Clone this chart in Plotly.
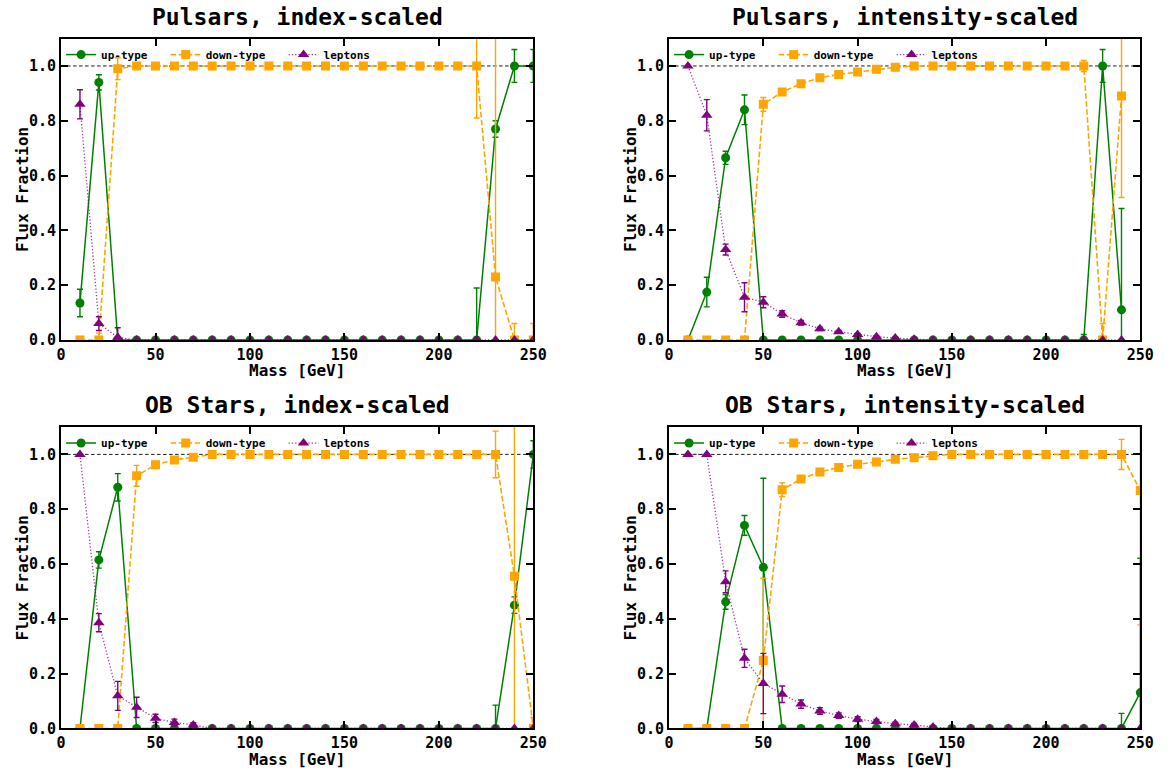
import plotly.graph_objects as go

# ---------------- data ----------------
mass = [10, 20, 30, 40, 50, 60, 70, 80, 90, 100, 110, 120, 130, 140, 150,
        160, 170, 180, 190, 200, 210, 220, 230, 240, 250]

titles = ["Pulsars, index-scaled", "Pulsars, intensity-scaled",
          "OB Stars, index-scaled", "OB Stars, intensity-scaled"]

# Pulsars, index-scaled
psr_idx_up = [0.135, 0.94, 0.0, 0, 0, 0, 0, 0, 0, 0, 0, 0, 0, 0, 0, 0, 0, 0, 0, 0, 0, 0.0, 0.77, 1.0, 1.0]
psr_idx_up_err = [0.05, 0.028, 0.01, 0, 0, 0, 0, 0, 0, 0, 0, 0, 0, 0, 0, 0, 0, 0, 0, 0, 0, 0.19, 0.03, 0.06, 0.06]
psr_idx_down = [0.0, 0.0, 0.99, 1, 1, 1, 1, 1, 1, 1, 1, 1, 1, 1, 1, 1, 1, 1, 1, 1, 1, 1.0, 0.23, 0.0, 0.0]
psr_idx_down_err = [0.0, 0.025, 0.04, 0, 0, 0, 0, 0, 0, 0, 0, 0, 0, 0, 0, 0, 0, 0, 0, 0, 0, 0.19, 1.0, 0.06, 0.06]
psr_idx_lep = [0.86, 0.06, 0.01, 0, 0, 0, 0, 0, 0, 0, 0, 0, 0, 0, 0, 0, 0, 0, 0, 0, 0, 0, 0, 0, 0]
psr_idx_lep_err = [0.053, 0.025, 0.035, 0, 0, 0, 0, 0, 0, 0, 0, 0, 0, 0, 0, 0, 0, 0, 0, 0, 0, 0, 0, 0, 0]

# Pulsars, intensity-scaled
psr_int_up = [0.0, 0.175, 0.665, 0.84, 0.0, 0, 0, 0, 0, 0, 0, 0, 0, 0, 0, 0, 0, 0, 0, 0, 0, 0.0, 1.0, 0.11, None]
psr_int_up_err = [0.0, 0.054, 0.024, 0.054, 0.0, 0, 0, 0, 0, 0, 0, 0, 0, 0, 0, 0, 0, 0, 0, 0, 0, 0.02, 0.06, 0.37, 0]
psr_int_down = [0.0, 0.0, 0.0, 0.0, 0.86, 0.905, 0.935, 0.957, 0.969, 0.978, 0.988, 0.995, 1, 1, 1, 1, 1, 1, 1, 1, 1, 1.0, 0.0, 0.89, None]
psr_int_down_err = [0, 0, 0, 0, 0.025, 0.012, 0.01, 0.008, 0.007, 0.006, 0.005, 0.004, 0, 0, 0, 0, 0, 0, 0, 0, 0, 0.02, 0.06, 0.37, 0]
psr_int_lep = [1.0, 0.82, 0.33, 0.156, 0.138, 0.095, 0.063, 0.041, 0.03, 0.02, 0.012, 0.007, 0.003, 0, 0, 0, 0, 0, 0, 0, 0, 0, 0, 0, None]
psr_int_lep_err = [0.0, 0.057, 0.02, 0.053, 0.02, 0.012, 0.008, 0.006, 0.005, 0.004, 0.003, 0.002, 0.001, 0, 0, 0, 0, 0, 0, 0, 0, 0, 0, 0, 0]

# OB Stars, index-scaled
ob_idx_up = [0.0, 0.615, 0.88, 0.0, 0, 0, 0, 0, 0, 0, 0, 0, 0, 0, 0, 0, 0, 0, 0, 0, 0, 0, 0.0, 0.45, 1.0]
ob_idx_up_err = [0.0, 0.03, 0.05, 0.0, 0, 0, 0, 0, 0, 0, 0, 0, 0, 0, 0, 0, 0, 0, 0, 0, 0, 0, 0.085, 0.03, 0.05]
ob_idx_down = [0.0, 0.0, 0.0, 0.922, 0.962, 0.98, 0.99, 1, 1, 1, 1, 1, 1, 1, 1, 1, 1, 1, 1, 1, 1, 1, 1.0, 0.555, 0.0]
ob_idx_down_err = [0, 0, 0, 0.038, 0.012, 0.008, 0.005, 0, 0, 0, 0, 0, 0, 0, 0, 0, 0, 0, 0, 0, 0, 0, 0.085, 1.0, 0.04]
ob_idx_lep = [1.0, 0.386, 0.119, 0.077, 0.037, 0.022, 0.013, 0, 0, 0, 0, 0, 0, 0, 0, 0, 0, 0, 0, 0, 0, 0, 0, 0, 0]
ob_idx_lep_err = [0.0, 0.033, 0.053, 0.037, 0.015, 0.012, 0.008, 0, 0, 0, 0, 0, 0, 0, 0, 0, 0, 0, 0, 0, 0, 0, 0, 0, 0]

# OB Stars, intensity-scaled
ob_int_up = [0.0, 0.0, 0.462, 0.741, 0.588, 0.0, 0, 0, 0, 0, 0, 0, 0, 0, 0, 0, 0, 0, 0, 0, 0, 0, 0, 0.0, 0.131]
ob_int_up_err = [0.0, 0.0, 0.027, 0.036, 0.325, 0.0, 0, 0, 0, 0, 0, 0, 0, 0, 0, 0, 0, 0, 0, 0, 0, 0, 0, 0.055, 0.49]
ob_int_down = [0.0, 0.0, 0.0, 0.0, 0.248, 0.871, 0.91, 0.936, 0.952, 0.964, 0.972, 0.982, 0.988, 0.995, 1, 1, 1, 1, 1, 1, 1, 1, 1, 1.0, 0.868]
ob_int_down_err = [0, 0, 0, 0, 0.3, 0.025, 0.012, 0.01, 0.008, 0.007, 0.006, 0.005, 0.004, 0.003, 0, 0, 0, 0, 0, 0, 0, 0, 0, 0.055, 0.49]
ob_int_lep = [1.0, 1.0, 0.535, 0.256, 0.164, 0.125, 0.089, 0.064, 0.047, 0.034, 0.025, 0.017, 0.013, 0.005, 0, 0, 0, 0, 0, 0, 0, 0, 0, 0, 0]
ob_int_lep_err = [0.0, 0.0, 0.04, 0.033, 0.11, 0.03, 0.015, 0.012, 0.01, 0.009, 0.008, 0.006, 0.005, 0.003, 0, 0, 0, 0, 0, 0, 0, 0, 0, 0, 0]

series_names = ["up-type", "down-type", "leptons"]
x_ticks = [0, 50, 100, 150, 200, 250]
y_ticks = [0.0, 0.2, 0.4, 0.6, 0.8, 1.0]

panel_data = [
    (psr_idx_up, psr_idx_up_err, psr_idx_down, psr_idx_down_err, psr_idx_lep, psr_idx_lep_err),
    (psr_int_up, psr_int_up_err, psr_int_down, psr_int_down_err, psr_int_lep, psr_int_lep_err),
    (ob_idx_up, ob_idx_up_err, ob_idx_down, ob_idx_down_err, ob_idx_lep, ob_idx_lep_err),
    (ob_int_up, ob_int_up_err, ob_int_down, ob_int_down_err, ob_int_lep, ob_int_lep_err),
]

# ---------------- layout geometry ----------------
W, H = 1175, 777
FONT = "DejaVu Sans Mono"
# plot areas in pixels (left, right, top, bottom)
boxes = [(57, 537, 39, 344), (675, 1154, 39, 344),
         (57, 537, 432, 737), (675, 1154, 432, 737)]

styles = [
    dict(color="green", dash="solid", width=1.5, symbol="circle", size=9),
    dict(color="orange", dash="5.5px,2.5px", width=1.6, symbol="square", size=9),
    dict(color="rgba(128,0,128,0.75)", dash="1.3px,2px", width=1.3, symbol="triangle-up", size=10),
]
marker_colors = ["green", "orange", "purple"]

fig = go.Figure()
layout = dict(width=W, height=H, margin=dict(l=0, r=0, t=0, b=0),
              paper_bgcolor="white", plot_bgcolor="white", showlegend=True)
annotations = []
shapes = []
NB = "\u00a0\u00a0"

for i, (box, title, data) in enumerate(zip(boxes, titles, panel_data)):
    n = i + 1
    sfx = "" if n == 1 else str(n)
    xd = [box[0] / W, box[1] / W]
    yd = [1 - box[3] / H, 1 - box[2] / H]
    legname = "legend" + sfx
    vals = [(data[0], data[1]), (data[2], data[3]), (data[4], data[5])]
    for (y, e), name, st, mc in zip(vals, series_names, styles, marker_colors):
        fig.add_trace(go.Scatter(
            x=mass, y=y, name=name + NB, mode="lines+markers",
            xaxis="x" + sfx, yaxis="y" + sfx, legend=legname,
            line=dict(color=st["color"], dash=st["dash"], width=st["width"]),
            marker=dict(symbol=st["symbol"], size=st["size"], color=mc),
            error_y=dict(type="data", array=e, color=mc, thickness=1.4, width=3),
        ))
    axcommon = dict(showline=True, linecolor="black", linewidth=2, mirror="ticks",
                    ticks="inside", ticklen=7, tickwidth=2, tickcolor="black",
                    showgrid=False, zeroline=False,
                    tickfont=dict(family=FONT, size=15, color="black", weight="bold"))
    layout["xaxis" + sfx] = dict(axcommon, domain=xd, range=[0, 250], tickvals=x_ticks,
                                 anchor="y" + sfx)
    layout["yaxis" + sfx] = dict(axcommon, domain=yd, range=[0, 1.1], tickvals=y_ticks,
                                 tickformat=".1f", anchor="x" + sfx)
    layout[legname] = dict(x=xd[0] + 0.0, y=yd[1] - 0.002, xanchor="left", yanchor="top",
                           orientation="h", bgcolor="rgba(0,0,0,0)",
                           font=dict(family=FONT, size=11, color="black", weight="bold"),
                           itemwidth=30, tracegroupgap=0)
    # reference line at 1.0
    shapes.append(dict(type="line", xref="x" + sfx + " domain", yref="y" + sfx,
                       x0=0, x1=1, y0=1.0, y1=1.0,
                       line=dict(color="black", width=0.9, dash="3.5px,2.5px"), layer="below"))
    cx = (box[0] + box[1]) / 2 / W
    annotations.append(dict(text=title, xref="paper", yref="paper", x=cx,
                            y=1 - (box[2] - 22) / H, xanchor="center", yanchor="middle",
                            showarrow=False,
                            font=dict(family=FONT, size=23, color="black", weight="bold")))
    annotations.append(dict(text="Mass [GeV]", xref="paper", yref="paper", x=cx,
                            y=1 - (box[3] + 31) / H, xanchor="center", yanchor="middle",
                            showarrow=False,
                            font=dict(family=FONT, size=16, color="black", weight="bold")))
    annotations.append(dict(text="Flux Fraction", xref="paper", yref="paper",
                            x=(box[0] - 39) / W, y=1 - (box[2] + box[3]) / 2 / H,
                            xanchor="center", yanchor="middle", textangle=-90,
                            showarrow=False,
                            font=dict(family=FONT, size=16, color="black", weight="bold")))

layout["annotations"] = annotations
layout["shapes"] = shapes
fig.update_layout(**layout)
fig.write_html("out.html")
